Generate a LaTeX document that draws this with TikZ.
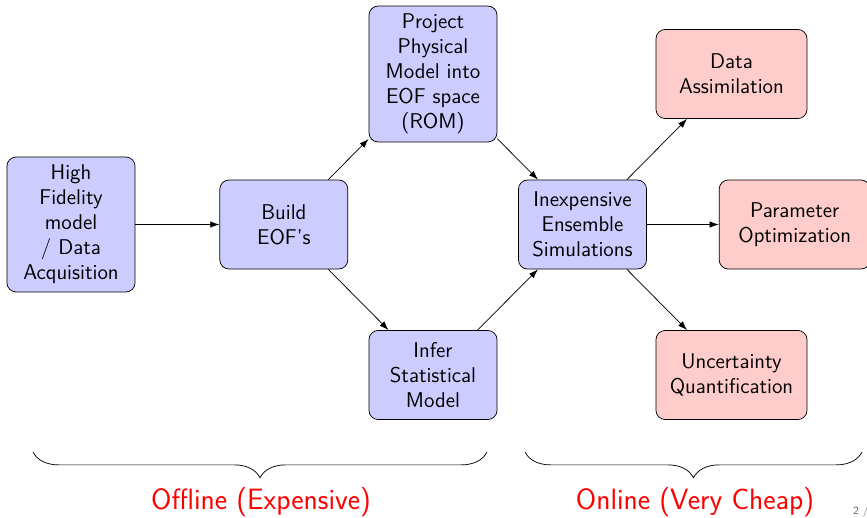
\documentclass[tikz,border=0pt,11pt]{standalone}
\usepackage{tikz}
\usetikzlibrary{positioning,arrows.meta,decorations.pathreplacing}

\begin{document}
\begin{tikzpicture}[
  x=0.5436pt,y=-0.5436pt,
  font=\fontsize{11.6}{13.6}\selectfont\sffamily,
  >={Latex[length=5pt,width=3.5pt]},
  bbox/.style={draw,rounded corners=5pt,align=center,fill=blue!20,
               minimum width=69.6pt,minimum height=48.4pt},
  rbox/.style={draw,rounded corners=5pt,align=center,fill=red!20,
               minimum width=82.1pt,minimum height=48.4pt},
  arr/.style={->},
  brc/.style={decorate,decoration={brace,amplitude=14pt,mirror}},
  phase/.style={text=red,font=\fontsize{16}{19}\selectfont\sffamily},
]
  \useasboundingbox (0,0) rectangle (867,518);

  % offline part
  \node[bbox,minimum height=73.4pt] (hf) at (71,224.5) {High\\Fidelity\\model\\/ Data\\Acquisition};
  \node[bbox,right=45.7pt of hf] (eof) {Build\\EOF's};
  \node[bbox,minimum height=73.9pt] (rom) at (433,74) {Project\\Physical\\Model into\\EOF space\\(ROM)};
  \node[bbox] (stat) at (433,375) {Infer\\Statistical\\Model};
  \node[bbox] (ens) at (582.5,224.5) {Inexpensive\\Ensemble\\Simulations};

  % online part
  \node[rbox] (da) at (731.5,74) {Data\\Assimilation};
  \node[rbox,right=39.1pt of ens] (opt) {Parameter\\Optimization};
  \node[rbox] (uq) at (731.5,375) {Uncertainty\\Quantification};

  \draw[arr] (hf) -- (eof);
  \draw[arr] (eof) -- (rom);
  \draw[arr] (eof) -- (stat);
  \draw[arr] (rom) -- (ens);
  \draw[arr] (stat) -- (ens);
  \draw[arr] (ens) -- (da);
  \draw[arr] (ens) -- (opt);
  \draw[arr] (ens) -- (uq);

  % braces
  \coordinate (offa) at (33,452);
  \coordinate (offb) at (487,452);
  \coordinate (ona) at (525,452);
  \coordinate (onb) at (862,452);
  \draw[brc] (offa) -- (offb);
  \draw[brc] (ona) -- (onb);
  \node[phase] (off) at (261,502) {Offline (Expensive)};
  \node[phase] (on) at (695,502) {Online (Very Cheap)};

  \node[font=\tiny\sffamily,text=black!60,anchor=west] (pg) at (846,512) {2 /};
\end{tikzpicture}
\end{document}
